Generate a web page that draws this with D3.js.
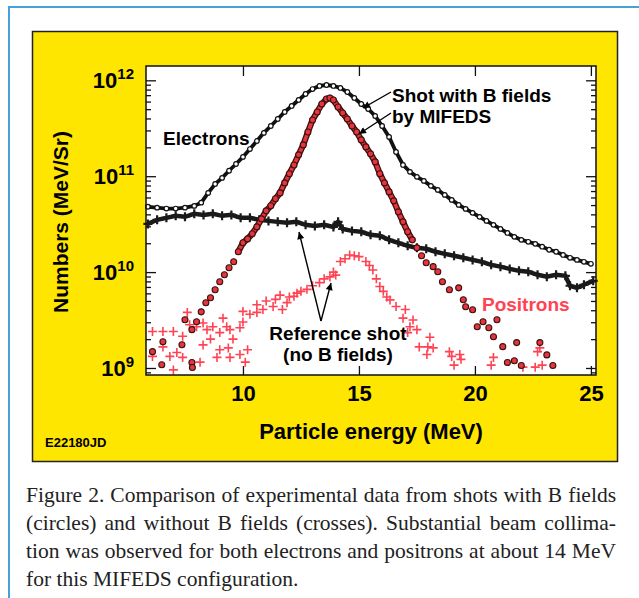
<!DOCTYPE html>
<html>
<head>
<meta charset="utf-8">
<script src="https://cdn.jsdelivr.net/npm/d3@7"></script>
<style>
  body { margin: 0; background: #fff; }
  svg { display: block; }
  .sans { font-family: "Liberation Sans", Arial, Helvetica, sans-serif; font-weight: bold; }
  .serif { font-family: "Liberation Serif", "Times New Roman", Times, serif; }
</style>
</head>
<body>
<div id="chart"></div>
<script>
// energy (MeV) and counts (MeV/Sr)

// electrons, shot with B fields (open circles)
var eBx = [5.9, 6.3, 6.7, 7.1, 7.5, 7.9, 8.2, 8.5, 8.8, 9.1, 9.4, 9.7, 10.0, 10.3, 10.6, 10.9, 11.2, 11.5, 11.8, 12.1,
           12.4, 12.7, 13.0, 13.3, 13.6, 13.9, 14.2, 14.5, 14.8, 15.1, 15.4, 15.7, 16.0, 16.3, 16.6, 16.9, 17.2, 17.5,
           17.8, 18.1, 18.4, 18.7, 19.0, 19.3, 19.6, 19.9, 20.2, 20.5, 20.8, 21.1, 21.4, 21.7, 22.0, 22.3, 22.6, 22.9,
           23.2, 23.5, 23.8, 24.1, 24.4, 24.7, 25.0];
var eBy = [4.8e10, 4.7e10, 4.6e10, 4.6e10, 4.7e10, 4.9e10, 5.3e10, 6.7e10, 8.3e10, 9.6e10, 1.14e11, 1.34e11, 1.59e11,
           1.92e11, 2.33e11, 2.83e11, 3.34e11, 3.95e11, 4.68e11, 5.40e11, 6.24e11, 7.20e11, 8.11e11, 8.73e11, 8.93e11,
           8.73e11, 8.32e11, 7.55e11, 6.55e11, 5.66e11, 5.02e11, 4.25e11, 3.34e11, 2.57e11, 1.79e11, 1.31e11, 1.11e11,
           9.84e10, 8.93e10, 7.93e10, 7.20e10, 6.38e10, 5.66e10, 5.02e10, 4.56e10, 4.15e10, 3.77e10, 3.42e10, 3.11e10,
           2.82e10, 2.56e10, 2.33e10, 2.17e10, 2.07e10, 1.97e10, 1.84e10, 1.71e10, 1.63e10, 1.51e10, 1.41e10, 1.34e10,
           1.28e10, 1.22e10];

// electrons, reference shot without B fields (crosses)
var e0x = [5.9, 6.3, 6.7, 7.1, 7.5, 7.9, 8.3, 8.7, 9.1, 9.5, 9.9, 10.3, 10.7, 11.1, 11.5, 11.9, 12.3, 12.7, 13.1, 13.5,
           13.9, 14.1, 14.3, 14.7, 15.1, 15.5, 15.9, 16.3, 16.7, 17.1, 17.5, 17.9, 18.3, 18.7, 19.1, 19.5, 19.9, 20.3,
           20.7, 21.1, 21.5, 21.9, 22.3, 22.7, 23.1, 23.5, 23.9, 24.1, 24.4, 24.7, 25.1];
var e0y = [3.18e10, 3.51e10, 3.68e10, 3.86e10, 3.77e10, 4.05e10, 3.95e10, 4.05e10, 3.86e10, 3.95e10, 3.68e10, 3.68e10,
           3.51e10, 3.42e10, 3.34e10, 3.27e10, 3.34e10, 3.11e10, 3.03e10, 3.11e10, 2.96e10, 3.34e10, 2.82e10, 2.69e10,
           2.63e10, 2.45e10, 2.39e10, 2.17e10, 2.02e10, 1.88e10, 1.79e10, 1.75e10, 1.63e10, 1.55e10, 1.48e10, 1.41e10,
           1.34e10, 1.28e10, 1.19e10, 1.14e10, 1.08e10, 1.03e10, 1.01e10, 9.37e9, 8.93e9, 9.37e9, 9.15e9, 7.20e9,
           6.85e9, 7.38e9, 8.11e9];

// positrons, shot with B fields (red circles)
var pBx = [6.1, 6.5, 6.55, 7.37, 7.5, 7.8, 7.8, 7.82, 8.0, 8.2, 8.4, 8.6, 8.8, 9.0, 9.2, 9.4, 9.6, 9.8, 10.0, 10.2,
           10.4, 10.6, 10.8, 11.0, 11.2, 11.4, 11.6, 11.8, 12.0, 12.2, 12.4, 12.6, 12.8, 13.0, 13.2, 13.4, 13.6, 13.75,
           13.9, 14.1, 14.3, 14.5, 14.7, 14.9, 15.1, 15.3, 15.5, 15.7, 15.9, 16.1, 16.3, 16.5, 16.7, 16.9, 17.1, 17.3,
           17.5, 17.7, 17.9, 18.2, 18.4, 18.6, 18.9, 19.3, 19.5, 19.6, 19.9, 20.1, 20.35, 20.6, 20.8, 20.95, 21.2, 21.4,
           21.7, 21.8, 22.0, 22.8, 23.1, 23.36];
var pBy = [1.48e9, 1.08e9, 1.88e9, 1.75e9, 3.18e9, 2.51e9, 1.14e9, 1.01e9, 3.03e9, 3.85e9, 4.79e9, 5.40e9, 6.55e9,
           7.93e9, 9.37e9, 1.11e10, 1.28e10, 1.63e10, 2.02e10, 2.22e10, 2.51e10, 2.96e10, 3.59e10, 4.35e10, 4.91e10,
           5.81e10, 6.70e10, 8.51e10, 1.06e11, 1.31e11, 1.67e11, 2.12e11, 2.89e11, 3.86e11, 4.68e11, 5.66e11, 6.38e11,
           6.55e11, 6.24e11, 5.27e11, 4.56e11, 3.95e11, 3.34e11, 2.89e11, 2.39e11, 2.02e11, 1.71e11, 1.41e11, 1.06e11,
           8.51e10, 6.86e10, 5.53e10, 4.25e10, 3.34e10, 2.63e10, 2.17e10, 1.79e10, 1.48e10, 1.25e10, 1.14e10, 1.01e10,
           7.93e9, 6.55e9, 6.85e9, 5.15e9, 4.35e9, 4.05e9, 2.69e9, 3.03e9, 2.63e9, 2.12e9, 3.18e9, 1.67e9, 1.14e9,
           1.19e9, 1.84e9, 1.06e9, 1.84e9, 1.37e9, 1.06e9];
// energy range where the red circles sit so close they form a continuous chain
var pBchain = [9.8, 17.3];

// positrons, reference shot without B fields (red crosses)
var p0x = [6.1, 6.1, 6.55, 6.55, 6.85, 7.0, 7.0, 7.15, 7.4, 7.4, 7.6, 7.7, 8.0, 8.15, 8.28, 8.28, 8.45, 8.6, 8.7, 8.88,
           9.0, 9.0, 9.14, 9.3, 9.37, 9.44, 9.44, 9.57, 9.87, 9.87, 10.0, 10.0, 10.1, 10.2, 10.3, 10.6, 10.6, 10.86,
           11.0, 11.3, 11.4, 11.6, 11.7, 11.9, 12.0, 12.2, 12.33, 12.5, 12.76, 13.0, 13.3, 13.5, 13.75, 13.9, 14.0,
           14.2, 14.4, 14.6, 14.8, 15.0, 15.3, 15.45, 15.6, 15.75, 15.9, 16.05, 16.2, 16.34, 16.6, 16.9, 17.0, 17.1,
           17.2, 17.33, 17.5, 17.6, 17.93, 17.97, 18.06, 18.2, 18.9, 19.0, 19.1, 19.35, 19.4, 20.7, 20.8, 22.07, 22.6,
           22.7, 22.8, 22.9];
var p0y = [2.40e9, 1.32e9, 2.40e9, 1.66e9, 1.32e9, 2.40e9, 9.55e8, 1.45e9, 2.14e9, 1.29e9, 3.80e9, 2.82e9, 2.69e9,
           1.15e9, 2.95e9, 1.74e9, 2.51e9, 2.00e9, 2.69e9, 1.29e9, 2.34e9, 1.55e9, 3.31e9, 2.69e9, 1.62e9, 2.51e9,
           1.29e9, 2.00e9, 2.63e9, 1.38e9, 3.89e9, 3.02e9, 1.15e9, 1.55e9, 3.63e9, 4.57e9, 3.80e9, 4.07e9, 5.0e9,
           4.37e9, 5.2e9, 5.75e9, 4.07e9, 4.8e9, 5.50e9, 5.6e9, 6.03e9, 6.3e9, 6.61e9, 7.2e9, 7.76e9, 8.5e9, 8.91e9,
           1.0e10, 9.3e9, 1.29e10, 1.38e10, 1.51e10, 1.48e10, 1.45e10, 1.29e10, 1.17e10, 1.05e10, 8.5e9, 7.08e9, 6.3e9,
           5.50e9, 5.13e9, 4.37e9, 3.31e9, 4.07e9, 2.34e9, 2.69e9, 3.16e9, 2.51e9, 1.66e9, 1.38e9, 1.66e9, 2.09e9,
           1.62e9, 1.48e9, 1.32e9, 1.07e9, 1.38e9, 1.23e9, 1.07e9, 1.29e9, 1.02e9, 1.02e9, 1.48e9, 1.62e9, 1.07e9];

var xTicks = [10, 15, 20, 25];
var yDecades = [9, 10, 11, 12];

var captionLines = [
    "Figure 2. Comparison of experimental data from shots with B fields",
    "(circles) and without B fields (crosses). Substantial beam collima-",
    "tion was observed for both electrons and positrons at about 14 MeV",
    "for this MIFEDS configuration."
];

var W = 639, H = 598;
var plot = { left: 146, right: 596, top: 66, bottom: 375 };

var svg = d3.select("#chart").append("svg")
    .attr("width", W)
    .attr("height", H);

// blue frame of the page
svg.append("rect")
    .attr("x", 9).attr("y", 7)
    .attr("width", 700).attr("height", 700)
    .attr("fill", "#fff")
    .attr("stroke", "#4a9fd8")
    .attr("stroke-width", 2);

// yellow panel
svg.append("rect")
    .attr("x", 32.5).attr("y", 31.5)
    .attr("width", 585).attr("height", 430)
    .attr("fill", "#ffe600")
    .attr("stroke", "#222")
    .attr("stroke-width", 1.5);

// plot area
svg.append("rect")
    .attr("x", plot.left).attr("y", plot.top)
    .attr("width", plot.right - plot.left).attr("height", plot.bottom - plot.top)
    .attr("fill", "#fff");

var x = d3.scaleLinear().domain([5.82, 25.22]).range([plot.left, plot.right]);
var y = d3.scaleLog().domain([8.45e8, 1.41e12]).range([plot.bottom, plot.top]);

var majorY = yDecades.map(function (p) { return Math.pow(10, p); });
var minorY = [];
[8, 9, 10, 11].forEach(function (p) {
    for (var m = 2; m <= 9; m++) {
        var v = m * Math.pow(10, p);
        if (v > y.domain()[0] && v < y.domain()[1]) minorY.push(v);
    }
});

function styleAxis(g) {
    g.select(".domain").remove();
    g.selectAll(".tick line").attr("stroke", "#111").attr("stroke-width", 1.3);
}

// ticks on all four sides, pointing inward
svg.append("g").attr("transform", "translate(" + plot.left + ",0)")
    .call(d3.axisLeft(y).tickValues(majorY).tickSize(-10).tickFormat(""))
    .call(styleAxis);
svg.append("g").attr("transform", "translate(" + plot.left + ",0)")
    .call(d3.axisLeft(y).tickValues(minorY).tickSize(-5).tickFormat(""))
    .call(styleAxis);
svg.append("g").attr("transform", "translate(" + plot.right + ",0)")
    .call(d3.axisRight(y).tickValues(majorY).tickSize(-10).tickFormat(""))
    .call(styleAxis);
svg.append("g").attr("transform", "translate(" + plot.right + ",0)")
    .call(d3.axisRight(y).tickValues(minorY).tickSize(-5).tickFormat(""))
    .call(styleAxis);
svg.append("g").attr("transform", "translate(0," + plot.top + ")")
    .call(d3.axisTop(x).tickValues(xTicks).tickSize(-10).tickFormat(""))
    .call(styleAxis);

var xAxis = svg.append("g").attr("transform", "translate(0," + plot.bottom + ")")
    .call(d3.axisBottom(x).tickValues(xTicks).tickSize(-9).tickPadding(10).tickFormat(d3.format("d")))
    .call(styleAxis);
xAxis.selectAll(".tick text")
    .attr("class", "sans")
    .attr("font-size", 22)
    .attr("fill", "#000");

// y tick labels as 10 with superscript exponent
var yLab = svg.append("g");
yDecades.forEach(function (p) {
    var t = yLab.append("text")
        .attr("class", "sans")
        .attr("x", 134)
        .attr("y", y(Math.pow(10, p)) + 8)
        .attr("text-anchor", "end")
        .attr("font-size", 22);
    t.append("tspan").text("10");
    t.append("tspan").attr("font-size", 15).attr("dy", -9).text(p);
});

var data = {
    eB: eBx.map(function (d, i) { return [d, eBy[i]]; }),
    e0: e0x.map(function (d, i) { return [d, e0y[i]]; }),
    pB: pBx.map(function (d, i) { return [d, pBy[i]]; }),
    p0: p0x.map(function (d, i) { return [d, p0y[i]]; })
};

var marks = svg.append("g");
var line = d3.line().x(function (d) { return x(d[0]); }).y(function (d) { return y(d[1]); });

function crosses(arr, size, color, width) {
    var g = marks.append("g").attr("stroke", color).attr("stroke-width", width);
    var s = size / 2;
    g.selectAll("path").data(arr).enter().append("path")
        .attr("d", function (d) {
            var cx = x(d[0]), cy = y(d[1]);
            return "M" + (cx - s) + "," + cy + "H" + (cx + s) + "M" + cx + "," + (cy - s) + "V" + (cy + s);
        });
}

// electrons without B: thick jagged band of crosses
marks.append("path").datum(data.e0)
    .attr("d", line).attr("fill", "none").attr("stroke", "#1a1a1a").attr("stroke-width", 4.5);
crosses(data.e0, 9, "#1a1a1a", 2.2);

// electrons with B: chain of open circles
marks.append("path").datum(data.eB)
    .attr("d", line).attr("fill", "none").attr("stroke", "#111").attr("stroke-width", 3.8);
marks.append("g").selectAll("circle").data(data.eB).enter().append("circle")
    .attr("cx", function (d) { return x(d[0]); })
    .attr("cy", function (d) { return y(d[1]); })
    .attr("r", 2.3)
    .attr("fill", "#fff").attr("stroke", "#111").attr("stroke-width", 1.2);

// positrons without B: red crosses
crosses(data.p0, 9, "#ff4353", 1.6);

// positrons with B: red filled circles, chained where they overlap
var chain = data.pB.filter(function (d) { return d[0] >= pBchain[0] && d[0] <= pBchain[1]; });
marks.append("path").datum(chain)
    .attr("d", line).attr("fill", "none").attr("stroke", "#3a1212").attr("stroke-width", 6.2)
    .attr("stroke-linecap", "round");
marks.append("path").datum(chain)
    .attr("d", line).attr("fill", "none").attr("stroke", "#e8343c").attr("stroke-width", 3.6)
    .attr("stroke-linecap", "round");
marks.append("g").selectAll("circle").data(data.pB).enter().append("circle")
    .attr("cx", function (d) { return x(d[0]); })
    .attr("cy", function (d) { return y(d[1]); })
    .attr("r", 3)
    .attr("fill", "#e8343c").attr("stroke", "#3a1212").attr("stroke-width", 1.1);

// plot frame
svg.append("rect")
    .attr("x", plot.left).attr("y", plot.top)
    .attr("width", plot.right - plot.left).attr("height", plot.bottom - plot.top)
    .attr("fill", "none").attr("stroke", "#111").attr("stroke-width", 1.5);

// arrowhead
svg.append("defs").append("marker")
    .attr("id", "arrow")
    .attr("viewBox", "0 0 10 10")
    .attr("refX", 10).attr("refY", 5)
    .attr("markerWidth", 9).attr("markerHeight", 7)
    .attr("markerUnits", "userSpaceOnUse")
    .attr("orient", "auto")
    .append("path").attr("d", "M0,0L10,5L0,10z").attr("fill", "#000");

var arrows = [
    [391, 92, 363, 108],
    [391, 113, 359, 134],
    [321, 321, 299, 232],
    [321, 321, 331, 283]
];
svg.append("g").selectAll("line").data(arrows).enter().append("line")
    .attr("x1", function (d) { return d[0]; })
    .attr("y1", function (d) { return d[1]; })
    .attr("x2", function (d) { return d[2]; })
    .attr("y2", function (d) { return d[3]; })
    .attr("stroke", "#000").attr("stroke-width", 1.4)
    .attr("marker-end", "url(#arrow)");

// annotations
function label(txt, tx, ty, size, anchor, color) {
    return svg.append("text")
        .attr("class", "sans")
        .attr("x", tx).attr("y", ty)
        .attr("font-size", size)
        .attr("text-anchor", anchor || "start")
        .attr("fill", color || "#000")
        .text(txt);
}
label("Electrons", 163, 145, 19);
label("Shot with B fields", 392, 102, 19);
label("by MIFEDS", 392, 123, 19);
label("Positrons", 482, 311, 19, "start", "#ff4353");
label("Reference shot", 338, 340, 19, "middle");
label("(no B fields)", 338, 361, 19, "middle");

// axis titles
label("Particle energy (MeV)", 371, 439, 22, "middle");
svg.append("text")
    .attr("class", "sans")
    .attr("transform", "translate(68,222) rotate(-90)")
    .attr("font-size", 21)
    .attr("text-anchor", "middle")
    .text("Numbers (MeV/Sr)");
label("E22180JD", 45, 447, 13);

// caption, justified by stretching the word gaps
var capWidth = 590;
var cap = svg.append("g");
captionLines.forEach(function (t, i) {
    var el = cap.append("text")
        .attr("class", "serif")
        .attr("x", 26)
        .attr("y", 502 + i * 28)
        .attr("font-size", 21.5)
        .attr("fill", "#222")
        .text(t);
    if (i < captionLines.length - 1) {
        var gaps = t.split(" ").length - 1;
        var extra = capWidth - el.node().getComputedTextLength();
        el.attr("word-spacing", extra / gaps);
    }
});
</script>
</body>
</html>
